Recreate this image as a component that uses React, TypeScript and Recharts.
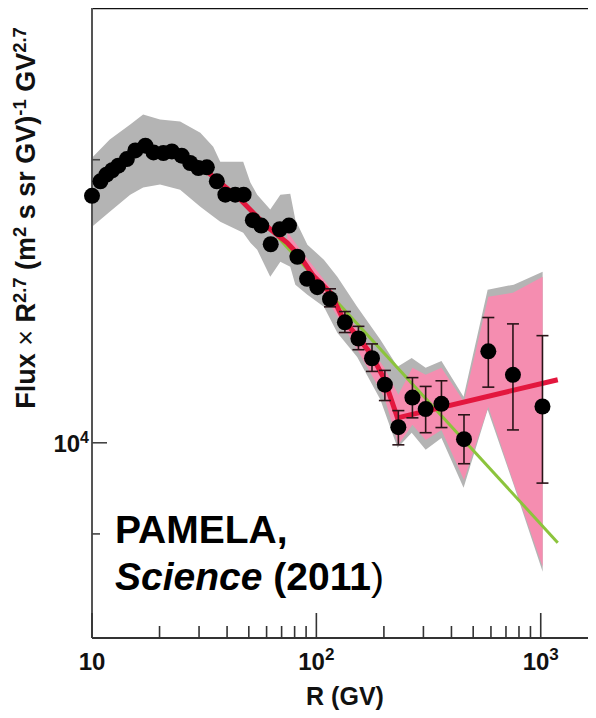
import React from 'react';
import { ComposedChart, XAxis, YAxis, Area, Line, ErrorBar, ReferenceLine } from 'recharts';

const FONT = '"Liberation Sans", Arial, Helvetica, sans-serif';

// Measured points: rigidity R (GV) and Flux x R^2.7
const rigidityGV = [10.0, 10.9, 11.6, 12.3, 13.1, 14.3, 15.6, 17.3, 18.8, 20.8, 22.7, 25.1, 27.4, 29.8, 32.5, 36.0, 39.3, 43.5, 47.4, 52.1, 56.8, 62.6, 68.7, 75.5, 82.3, 90.9, 101, 115, 134, 154, 177, 202, 232, 268, 307, 361, 455, 584, 752, 1018];
const fluxR27 = [18310, 18970, 19280, 19490, 19710, 20030, 20460, 20700, 20360, 20330, 20410, 20200, 19840, 19600, 19630, 18970, 18360, 18360, 18360, 17250, 17020, 16260, 16870, 17020, 15770, 14940, 14640, 14220, 13430, 12910, 12300, 11530, 10390, 11170, 10860, 11000, 10090, 12510, 11810, 10930];
const errLow: (number | null)[] = [null, null, null, null, null, null, null, null, null, null, null, null, null, null, null, null, null, null, null, null, null, null, null, null, null, null, null, 13950, 13100, 12560, 11910, 11090, 9950, 10630, 10250, 10380, 9500, 11460, 10320, 9060];
const errHigh: (number | null)[] = [null, null, null, null, null, null, null, null, null, null, null, null, null, null, null, null, null, null, null, null, null, null, null, null, null, null, null, 14580, 13790, 13300, 12740, 11940, 10820, 11730, 11480, 11640, 10710, 13590, 13380, 13000];

// Grey uncertainty band
const grayR = [10, 12.0, 14.8, 16.9, 20.1, 24.7, 30.4, 34.7, 37.3, 47.2, 50.8, 54.5, 62.3, 69.1, 76.5, 80.6, 91.2, 108, 124, 152, 193, 230, 266, 307, 361, 453, 580, 758, 1020];
const grayHigh = [20100, 21010, 21800, 22340, 22070, 21960, 21370, 20650, 19900, 19900, 18910, 18360, 17700, 18360, 18400, 17270, 16240, 15660, 15020, 13950, 12870, 12050, 12310, 12020, 12220, 11190, 14550, 14730, 15200];
const grayLow = [16970, 17610, 18360, 18680, 18820, 18580, 17830, 17400, 17180, 16730, 16320, 16040, 15020, 15580, 15390, 14730, 14370, 13950, 13090, 12340, 11110, 9880, 10250, 9830, 10120, 8960, 10840, 9020, 7290];

// Pink band
const pinkR = [74.2, 84.8, 115.5, 152.4, 201, 232, 268, 307, 361, 455, 584, 752, 1020];
const pinkHigh = [16770, 16040, 14620, 13190, 12020, 11250, 12020, 11810, 12020, 11060, 14300, 14440, 15020];
const pinkLow = [16040, 15580, 14020, 12560, 11170, 9950, 10450, 10070, 10320, 9130, 10920, 9110, 7380];

// Red broken fit
const fitR = [32.6, 45.8, 60.4, 74.2, 84.8, 97.0, 115.5, 132, 152.4, 176.1, 201.2, 229.9, 1191];
const fitF = [19430, 18140, 16970, 16320, 15770, 15050, 14440, 13520, 12970, 12410, 11670, 10630, 11670];

// Green single power law
const greenR = [67.7, 1191];
const greenF = [16520, 7830];

const xDomain = [10, 1800];
const yDomain = [6200, 29000];
const xTicks = [10, 20, 30, 40, 50, 60, 70, 80, 90, 100, 200, 300, 400, 500, 600, 700, 800, 900, 1000];
const yTicks = [8000, 10000, 20000];
const yRightTick = 10000;

const points = rigidityGV.map((r, i) => ({
  r,
  f: fluxR27[i],
  err: errLow[i] == null ? [0, 0] : [fluxR27[i] - (errLow[i] as number), (errHigh[i] as number) - fluxR27[i]],
}));
const grayBand = grayR.map((r, i) => ({ r, band: [grayLow[i], grayHigh[i]] }));
const pinkBand = pinkR.map((r, i) => ({ r, band: [pinkLow[i], pinkHigh[i]] }));
const fitLine = fitR.map((r, i) => ({ r, f: fitF[i] }));
const greenLine = greenR.map((r, i) => ({ r, f: greenF[i] }));

const isMajor = (v: number) => Math.abs(Math.log10(v) - Math.round(Math.log10(v))) < 1e-9;

const XTick = (props: any) => {
  const { x, y, payload } = props;
  const v = payload.value;
  const major = isMajor(v);
  const exp = Math.round(Math.log10(v));
  return (
    <g>
      <line x1={x} x2={x} y1={y} y2={y - (major ? 25 : 12)} stroke="#333" strokeWidth={1.6} />
      {major && (
        <text x={x} y={y + 32} textAnchor="middle" fontFamily={FONT} fontWeight="bold" fontSize={24} fill="#111">
          {exp === 1 ? '10' : (<>10<tspan dy={-10} fontSize={17}>{exp}</tspan></>)}
        </text>
      )}
    </g>
  );
};

const YTick = (props: any) => {
  const { x, y, payload } = props;
  const v = payload.value;
  const major = isMajor(v);
  const exp = Math.round(Math.log10(v));
  return (
    <g>
      <line x1={x} x2={x + (major ? 15 : 8)} y1={y} y2={y} stroke="#444" strokeWidth={1.6} />
      {major && (
        <text x={x - 3} y={y + 9} textAnchor="end" fontFamily={FONT} fontWeight="bold" fontSize={24} fill="#111">
          10<tspan dy={-9} fontSize={16}>{exp}</tspan>
        </text>
      )}
    </g>
  );
};

// Inward tick on the (off-page) right frame edge
const RightTickShape = (props: any) => {
  const { x2, y1 } = props;
  const xr = Math.max(props.x1, x2);
  return <line x1={xr - 8} x2={xr} y1={y1} y2={y1} stroke="#444" strokeWidth={1.6} />;
};

const sup: React.CSSProperties = { fontSize: '0.68em', position: 'relative', top: '-0.5em' };

export default function App() {
  return (
    <div style={{ position: 'relative', margin: -8, width: 596, height: 718, overflow: 'hidden', background: '#fff' }}>
      <ComposedChart width={604} height={718} margin={{ top: 8, right: 6, bottom: 0, left: 0 }}>
        <XAxis
          xAxisId={0}
          dataKey="r"
          type="number"
          scale="log"
          domain={xDomain}
          ticks={xTicks}
          interval={0}
          height={80}
          tickSize={0}
          tickMargin={0}
          tickLine={false}
          axisLine={{ stroke: '#333', strokeWidth: 2 }}
          tick={<XTick />}
        />
        <YAxis
          yAxisId={0}
          type="number"
          scale="log"
          domain={yDomain}
          ticks={yTicks}
          interval={0}
          width={92}
          tickSize={0}
          tickMargin={0}
          tickLine={false}
          axisLine={{ stroke: '#555', strokeWidth: 2 }}
          tick={<YTick />}
        />
        <ReferenceLine y={yDomain[1]} stroke="#111" strokeWidth={2.5} ifOverflow="visible" />
        <ReferenceLine x={xDomain[1]} stroke="#111" strokeWidth={2.5} ifOverflow="visible" />
        <Area data={grayBand} dataKey="band" type="linear" stroke="none" fill="#b4b4b4" fillOpacity={1} isAnimationActive={false} legendType="none" />
        <Area data={pinkBand} dataKey="band" type="linear" stroke="none" fill="#f58db0" fillOpacity={1} isAnimationActive={false} legendType="none" />
        <Line data={greenLine} dataKey="f" type="linear" stroke="#8cc43c" strokeWidth={3} dot={false} activeDot={false} isAnimationActive={false} legendType="none" />
        <Line data={fitLine} dataKey="f" type="linear" stroke="#e3173e" strokeWidth={5} dot={false} activeDot={false} isAnimationActive={false} legendType="none" />
        <Line
          data={points}
          dataKey="f"
          stroke="none"
          dot={{ r: 8, fill: '#000', stroke: 'none' }}
          activeDot={false}
          isAnimationActive={false}
          legendType="none"
        >
          <ErrorBar dataKey="err" direction="y" width={6} stroke="#2a1418" strokeWidth={1.6} />
        </Line>
        <ReferenceLine y={yRightTick} ifOverflow="visible" shape={<RightTickShape />} />
      </ComposedChart>

      <div
        style={{
          position: 'absolute', left: 26 - 220, top: 218 - 15, width: 440, height: 30, lineHeight: '30px',
          textAlign: 'center', transform: 'rotate(-90deg)', transformOrigin: '50% 50%',
          fontFamily: FONT, fontWeight: 'bold', fontSize: 27, color: '#111', whiteSpace: 'nowrap',
        }}
      >
        Flux <span style={{ fontWeight: 'normal' }}>×</span> R<span style={sup}>2.7</span> (m<span style={sup}>2</span> s sr GV)<span style={sup}>-1</span> GV<span style={sup}>2.7</span>
      </div>

      <div
        style={{
          position: 'absolute', left: 345 - 100, top: 681, width: 200, height: 30, lineHeight: '30px',
          textAlign: 'center', fontFamily: FONT, fontWeight: 'bold', fontSize: 25, color: '#111', whiteSpace: 'nowrap',
        }}
      >
        R (GV)
      </div>

      <div
        style={{
          position: 'absolute', left: 115, top: 506, lineHeight: '47px',
          fontFamily: FONT, fontWeight: 'bold', fontSize: 39, color: '#000', whiteSpace: 'nowrap',
        }}
      >
        <div>PAMELA,</div>
        <div><i>Science</i> (2011<span style={{ fontWeight: 'normal' }}>)</span></div>
      </div>
    </div>
  );
}
